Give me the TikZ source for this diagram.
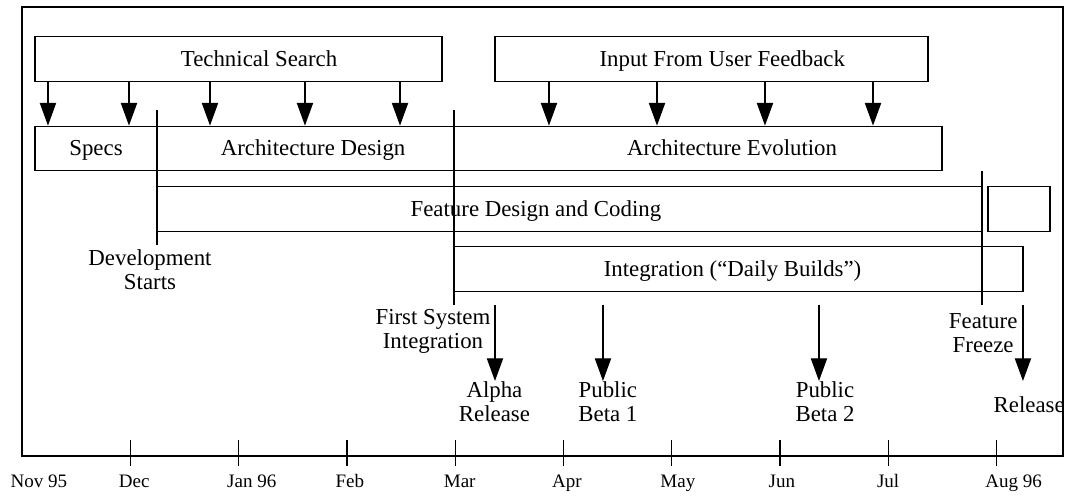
\documentclass[tikz,border=0pt]{standalone}
\usepackage{fontspec}
\setmainfont{Liberation Serif}
\usetikzlibrary{arrows.meta}

\begin{document}
\begin{tikzpicture}[
  line width=0.7pt,
  >={Triangle[length=0.42cm,width=0.3cm]},
  phase/.style={draw, inner sep=0pt, minimum height=0.82cm},
  every label/.style={inner sep=0pt, text height=7.9pt, text depth=0pt, font=\fontsize{12}{13}\selectfont},
  milestone/.style={inner sep=0pt, anchor=north, align=center, font=\fontsize{12}{12.6}\selectfont},
  marker/.style={line width=0.85pt},
  month/.style={inner sep=0pt, anchor=base west, font=\fontsize{10}{12}\selectfont}
]
  \useasboundingbox (-0.406,-9.197) rectangle (19.317,0);
  \draw (0,-0.129) rectangle (19.224,-8.421);
  % months along the bottom edge
  \foreach \m/\lab in {0/Nov 95,1/Dec,2/Jan 96,3/Feb,4/Mar,5/Apr,6/May,7/Jun,8/Jul,9/Aug 96} {
    \ifnum\m>0 \draw (2*\m,-8.126) -- (2*\m,-8.606); \fi
    \node[month] (m\m) at (2*\m-0.222,-9.0) {\lab};
  }
  % phases
  \node[phase, minimum width=7.516cm, label={[xshift=0.38cm]center:Technical Search}] (ts) at (3.998,-1.090) {};
  \node[phase, minimum width=7.996cm, label={[xshift=0.20cm]center:Input From User Feedback}] (uf) at (12.733,-1.090) {};
  \node[phase, minimum width=2.253cm, label={center:Specs}] (sp) at (1.367,-2.742) {};
  \node[phase, minimum width=5.485cm, label={[xshift=0.14cm]center:Architecture Design}] (ad) at (5.236,-2.742) {};
  \node[phase, minimum width=9.012cm, label={[xshift=0.63cm]center:Architecture Evolution}] (ae) at (12.484,-2.742) {};
  \node[phase, minimum width=15.235cm, label={[xshift=-0.62cm]center:Feature Design and Coding}] (fd) at (10.111,-3.860) {};
  \node[phase, minimum width=1.145cm] (fx) at (18.412,-3.860) {};
  \node[phase, minimum width=10.507cm, label={[xshift=-0.11cm]center:Integration (“Daily Builds”)}] (ig) at (13.232,-4.968) {};
  \foreach \x in {0.480,1.976} \draw[->] (\x,0 |- ts.south) -- (\x,0 |- sp.north);
  \foreach \x in {3.472,5.226,6.981} \draw[->] (\x,0 |- ts.south) -- (\x,0 |- ad.north);
  \foreach \x in {9.732,11.727,13.721,15.716} \draw[->] (\x,0 |- uf.south) -- (\x,0 |- ae.north);
  % development milestones
  \coordinate (dsTop) at (2.493,-2.031);
  \coordinate (dsEnd) at (2.493,-4.524);
  \coordinate (fiTop) at (7.978,-2.031);
  \coordinate (fiEnd) at (7.978,-5.632);
  \coordinate (ffTop) at (17.728,-3.158);
  \coordinate (ffEnd) at (17.728,-5.632);
  \draw[marker] (dsTop) -- (dsEnd);
  \draw[marker] (fiTop) -- (fiEnd);
  \draw[marker] (ffTop) -- (ffEnd);
  \node[milestone] (ds) at (2.364,-4.598) {Development\\Starts};
  \node[milestone] (fi) at (7.59,-5.706) {First System\\Integration};
  \node[milestone] (ff) at (17.75,-5.78) {Feature\\Freeze};
  % releases
  \node[milestone] (al) at (8.725,-7.036) {Alpha\\Release};
  \node[milestone] (b1) at (10.82,-7.036) {Public\\Beta 1};
  \node[milestone] (b2) at (14.83,-7.036) {Public\\Beta 2};
  \node[milestone] (rl) at (18.6,-7.313) {Release};
  \draw[->] (8.735,-5.632) -- (8.735,0 |- al.north);
  \draw[->] (10.729,-5.632) -- (10.729,0 |- b1.north);
  \draw[->] (14.718,-5.632) -- (14.718,0 |- b2.north);
  \draw[->] (18.485,-5.632) -- (18.485,-7.036);
\end{tikzpicture}
\end{document}
